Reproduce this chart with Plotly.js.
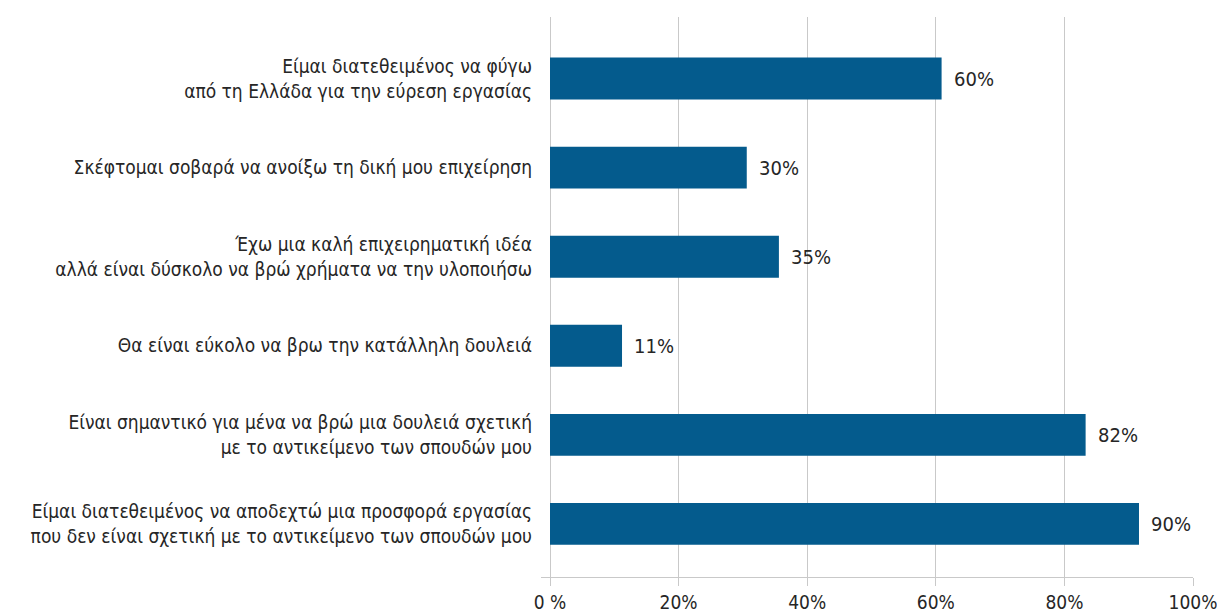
<!DOCTYPE html>
<html>
<head>
<meta charset="utf-8">
<script src="https://cdn.plot.ly/plotly-3.0.1.min.js"></script>
<style>html,body{margin:0;padding:0;background:#fff;}#chart{width:1217px;height:615px;}</style>
</head>
<body>
<div id="chart"></div>
<script>
// Categories listed top to bottom
const categories = [
  "Είμαι διατεθειμένος να φύγω<br>από τη Ελλάδα για την εύρεση εργασίας",
  "Σκέφτομαι σοβαρά να ανοίξω τη δική μου επιχείρηση",
  "Έχω μια καλή επιχειρηματική ιδέα<br>αλλά είναι δύσκολο να βρώ χρήματα να την υλοποιήσω",
  "Θα είναι εύκολο να βρω την κατάλληλη δουλειά",
  "Είναι σημαντικό για μένα να βρώ μια δουλειά σχετική<br>με το αντικείμενο των σπουδών μου",
  "Είμαι διατεθειμένος να αποδεχτώ μια προσφορά εργασίας<br>που δεν είναι σχετική με το αντικείμενο των σπουδών μου"
];
// Bar lengths as drawn (percent)
const values = [60.9, 30.6, 35.6, 11.2, 83.3, 91.6];
// Printed data labels
const valueLabels = ["60%", "30%", "35%", "11%", "82%", "90%"];
// X axis ticks
const tickValues = [0, 20, 40, 60, 80, 100];
const tickLabels = ["0 %", "20%", "40%", "60%", "80%", "100%"];

const FONT = "'Liberation Sans Narrow', 'Arial Narrow', 'DejaVu Sans Condensed', sans-serif";
const TEXT = "#262626";

const trace = {
  type: "bar",
  orientation: "h",
  x: values,
  y: categories,
  marker: {color: "#045b8d"},
  width: 0.47,
  hoverinfo: "skip"
};

const annotations = values.map((v, i) => ({
  x: v, y: categories[i], xref: "x", yref: "y",
  text: valueLabels[i], showarrow: false,
  xanchor: "left", yanchor: "middle", xshift: 10,
  font: {family: FONT, size: 20, color: TEXT}
}));

const layout = {
  width: 1217, height: 615,
  margin: {l: 541, r: 24, t: 17, b: 38, autoexpand: false},
  paper_bgcolor: "#ffffff",
  plot_bgcolor: "#ffffff",
  showlegend: false,
  font: {family: FONT, size: 20, color: TEXT},
  xaxis: {
    range: [-1.4, 100],
    tickvals: tickValues,
    ticktext: tickLabels,
    showgrid: true,
    gridcolor: "#c9c9c9",
    gridwidth: 1,
    zeroline: false,
    showline: true,
    linecolor: "#c9c9c9",
    linewidth: 1,
    ticks: "outside",
    ticklen: 8,
    tickcolor: "#c9c9c9",
    ticklabelstandoff: 0,
    ticklabeloverflow: "allow",
    tickfont: {family: FONT, size: 19, color: TEXT},
    fixedrange: true,
    automargin: false
  },
  yaxis: {
    type: "category",
    range: [5.596, -0.691],
    showgrid: false,
    zeroline: false,
    showline: false,
    ticks: "",
    ticklabelstandoff: 8,
    tickfont: {family: FONT, size: 19, color: TEXT},
    fixedrange: true,
    automargin: false
  },
  annotations: annotations
};

Plotly.newPlot("chart", [trace], layout, {displayModeBar: false, staticPlot: true});
</script>
</body>
</html>
